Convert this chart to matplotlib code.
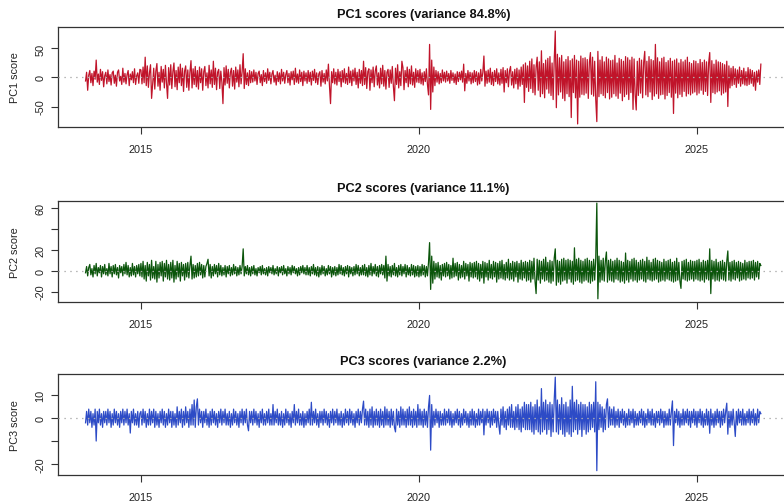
import matplotlib
matplotlib.use("Agg")
import matplotlib.pyplot as plt
import pandas as pd

plt.rcParams['font.family'] = ['Liberation Sans', 'DejaVu Sans']
plt.rcParams['axes.unicode_minus'] = False

# Weekly PCA scores, Jan 2014 - Feb 2026
pc1 = [
    # 2014
    -6, 9, -22, 4, 12, -9, 7, -14, 11, -3, 30, -8, 6, -12, 14, -5, 10, -16, 3, 9, -11, 13, -7, 5, -13, 8,
    11, -10, 4, -15, 9, 13, -6, 2, -12, 16, -8, 7, -11, 5, 12, -14, 6, -4, 10, -9, 15, -12, 3, 8, -10, 14,
    # 2015
    13, -11, 18, -9, 35, -14, 20, -17, 8, 22, -36, -12, 16, -20, 11, 24, -15, 9, -22, 19, -8, 14, -18, 21, -10, -36,
    17, -13, 22, -19, 10, 25, -16, 12, -21, 18, -9, 23, -14, 16, -24, 11, 20, -17, 13, -22, 9, 29, -18, 15, -12, 19,
    # 2016
    -16, 12, -20, 18, -9, 15, -22, 10, 19, -14, 8, -18, 21, -11, 13, -17, 28, -12, 16, -21, 9, 14, -19, 11, -8, -45,
    17, -13, 20, -10, 14, -18, 9, 16, -15, 12, -20, 18, -8, 13, -16, 22, -11, 10, 41, -19, 15, -12, 8, -14, 12, -9,
    # 2017
    10, -8, 13, -6, 9, -12, 7, 11, -9, 5, -14, 12, -7, 8, -10, 15, -5, 9, -11, 6, 12, -8, 4, -13, 10, -7,
    8, -11, 14, -6, 9, -10, 5, 12, -9, 7, -13, 10, -4, 11, -12, 16, -8, 6, -10, 13, -7, 9, -14, 11, -6, 8,
    # 2018
    -10, 12, -7, 9, -13, 11, -5, 14, -9, 8, -12, 6, 10, -15, 12, -8, 7, -11, 13, -6, 23, -14, -45, 10, -9, 15,
    -11, 9, -13, 14, -7, 10, -16, 12, -8, 15, -10, 7, -12, 18, -9, 11, -14, 13, -6, 16, -12, 9, -18, 14, -10, 12,
    # 2019
    -14, 28, -12, 17, -19, 10, 15, -22, 13, -9, 18, -16, 11, 20, -13, 8, -18, 16, -11, 21, -15, 12, -20, 9, 14, -17,
    13, -10, 19, -15, -40, 16, -12, 22, -18, 10, -14, 28, 17, -21, 12, -9, 18, -16, 14, -11, 20, -13, 9, -17, 15, -8,
    # 2020
    12, -9, 14, -11, 8, -13, 10, -7, 15, -12, -30, 57, -55, 30, -25, 18, -14, 12, -8, 10, -11, 7, -9, 13, -6, 9,
    -8, 11, -6, 7, -10, 12, -5, 8, -9, 6, -12, 10, -7, 9, -4, 11, -8, 23, -23, 7, -10, 12, -6, 9, -11, 8,
    # 2021
    -9, 12, -7, 10, -13, 8, -11, 14, -6, 9, 37, -15, 11, -10, 13, -8, 16, -12, 9, -14, 12, -7, 15, -11, 8, -13,
    14, -10, 17, -25, 12, -9, 15, -16, 11, 19, -13, 10, -18, 14, -11, 16, -20, 13, -15, 18, -12, 22, -43, 25, -17, 20,
    # 2022
    -24, 28, -19, 32, -26, 22, -30, 18, 35, -22, 27, -33, 46, -28, 24, -35, 30, -20, 33, -27, 36, -31, 25, -38, 29, 80,
    -52, 40, -30, 34, -25, 38, -36, 27, -40, 31, -28, 36, -33, 29, -69, 32, -26, 38, -35, 30, -80, 28, -34, 37, -29, 33,
    # 2023
    -30, 34, -27, 31, -36, 26, 43, -29, 35, -32, 28, -38, -76, 45, -33, 30, -28, 36, -31, 27, -35, 35, -26, 32, -37, 29,
    -34, 30, -28, 38, -32, 25, -36, 33, -27, 31, -40, 28, -33, 36, -29, 34, -38, 30, -26, 35, -55, 32, -30, -56, 28, -31,
    # 2024
    33, -27, 30, -35, 26, 45, -30, 28, -33, 36, -25, 31, -38, 29, -32, 57, -28, 34, -36, 27, -30, 33, -29, 35, -37, 26,
    -31, 29, -26, 33, -34, 28, -62, 30, -27, 32, -35, 25, -29, 31, -33, 27, -24, 30, -32, 35, -28, 26, -30, 24, -27, 29,
    # 2025
    -25, 28, -30, 24, -27, 31, -22, 26, -29, 30, -24, 27, -31, 25, 43, -43, 29, -26, 23, -28, 30, -25, 27, -23, 26, -30,
    24, -27, 22, -25, 28, -50, 20, -18, 16, -14, 19, -12, 15, -17, 13, -10, 18, -15, 12, -11, 16, -13, 10, -14, 17, -12,
    # 2026
    14, -10, 12, -15, 9, -22, 11, -8, 13, -12, 23,
]

pc2 = [
    # 2014
    -2, 4, -5, 3, 6, -4, 2, -6, 5, -3, 7, -5, 3, -2, 5, -6, 4, -3, 6, -4, 2, -5, 7, -3, 4, -6,
    5, -3, 6, -4, 3, -7, 5, -2, 4, -5, 6, -3, 8, -4, 5, -6, 3, -5, 7, -4, 4, -6, 5, -3, 6, -5,
    # 2015
    7, -6, 9, -8, 5, -10, 8, -5, 6, -9, 10, -7, 4, -8, 9, -11, 6, -7, 8, -5, 9, -10, 7, -6, 10, -8,
    6, -9, 8, -7, 10, -11, 5, -8, 9, -6, 7, -10, 8, -5, 6, -9, 7, -6, 8, -7, 5, 14, -8, 6, -7, 5,
    # 2016
    -6, 7, -5, 8, -4, 6, -7, 5, -6, 4, 7, 11, -5, 6, -7, 4, -5, 6, -3, 5, -6, 7, -4, 5, -5, 3,
    -4, 5, -6, 4, -3, 5, -5, 3, -4, 6, -3, 4, -5, 3, -4, 5, -3, 4, 21, -5, 4, -3, 5, -4, 3, -5,
    # 2017
    4, -3, 5, -4, 2, -5, 3, -2, 4, -4, 5, -3, 2, -4, 3, -5, 4, -2, 3, -3, 5, -4, 2, -3, 4, -5,
    3, -2, 4, -4, 5, -3, 2, -5, 4, -3, 3, -4, 5, -2, 4, -3, 2, -5, 3, -4, 4, -2, 5, -3, 3, -4,
    # 2018
    5, -4, 3, -5, 4, -3, 6, -4, 3, -5, 4, -6, 3, -4, 5, -3, 4, -5, 2, -4, 5, -3, 4, -6, 3, -4,
    4, -5, 3, -4, 6, -3, 5, -4, 3, -5, 4, -3, 5, -6, 4, -3, 3, -5, 4, -4, 6, -3, 5, -5, 3, -4,
    # 2019
    5, -4, 6, -5, 3, -6, 5, -4, 7, -5, 4, -3, 6, -5, 4, -6, 5, -3, 6, -4, 5, -7, 14, -10, 6, -5,
    4, -6, 5, -4, 7, -5, 3, -6, 5, -4, 6, -5, 4, -3, 6, -6, 5, -4, 3, -5, 6, -4, 5, -6, 4, -5,
    # 2020
    5, -6, 4, -5, 6, -4, 5, -6, 4, -5, 8, 27, -18, 14, -12, 9, -8, 7, -6, 8, -7, 5, -9, 6, -5, 7,
    -6, 8, -5, 6, -8, 5, -7, 12, -6, 7, -5, 8, -9, 6, -7, 5, -6, 9, -8, 7, -5, 6, -10, 8, -6, 7,
    # 2021
    -7, 8, -6, 9, -8, 7, -10, 6, -7, 9, -12, 8, -6, 7, -9, 10, -7, 6, -8, 9, -6, 8, -11, 7, -8, 9,
    -7, 10, -8, 6, -9, 8, -7, 11, -9, 7, -8, 9, -10, 8, -6, 9, -11, 7, -8, 10, -9, 8, -7, 9, -10, 8,
    # 2022
    -9, 10, -11, 9, -8, 12, -10, -22, 11, -9, 10, -12, 9, -8, 11, -10, 13, -9, 8, -11, 10, -12, 9, -10, 12, 21,
    -14, 10, -11, 9, -13, 11, -10, 12, -9, 10, -12, 11, -8, 10, -11, 9, -13, 22, -10, 11, -9, 12, -11, 10, -12, 9,
    # 2023
    -10, 11, -9, 12, -11, 10, -12, 9, -10, 11, -9, 12, 65, -27, 14, -11, 10, -9, 12, -10, 9, 18, -11, 10, -9, 11,
    -10, 9, -11, 10, -8, 12, -9, 10, -11, 9, -10, 8, -12, 17, -9, 10, -11, 9, -8, 11, -10, 12, -9, 10, -11, 8,
    # 2024
    -9, 10, -8, 11, -10, 9, -11, 13, -8, 10, -9, 8, -10, 11, -9, 12, -8, 10, -11, 9, -10, 8, -9, 11, -10, 9,
    -8, 10, -9, 11, -10, 8, -11, 9, -10, 12, -9, 8, -10, -17, 9, -8, 10, -9, 11, -10, 8, -9, 10, -8, 9, -10,
    # 2025
    9, -8, 10, -9, 11, -10, 8, -9, 10, -11, 9, -8, 10, -9, 21, -22, 10, -8, 9, -10, 11, -9, 8, -10, 9, -8,
    10, -9, 8, -10, 9, 19, -9, 8, -10, 9, -8, 10, -9, 8, -7, 9, -10, 8, -9, 7, -8, 10, -9, 8, -7, 9,
    # 2026
    -8, 9, -7, 10, -9, 8, -6, 9, -8, 7, 5,
]

pc3 = [
    # 2014
    -2, 3, -3, 4, -2, 3, -4, 2, -3, 4, -10, 3, -2, 4, -3, 2, -4, 3, -2, 3, -3, 4, -2, 3, -4, 2,
    -3, 4, -2, 3, -3, 2, -4, 3, -2, 4, -3, 3, -2, 4, -3, 2, -6.5, 3, -2, 4, -3, 2, -3, 3, -4, 2,
    # 2015
    3, -3, 4, -2, 3, -4, 2, -3, 4, -3, 3, -2, 4, -4, 3, -3, 2, -4, 3, -2, 4, -3, 3, -4, 2, -3,
    4, -2, 3, -4, 3, -3, 2, -4, 5, -3, 3, -2, 4, -4, 3, -3, 5, -2, 3, -4, 4, -3, 6, -3, 8, -4,
    # 2016
    5, 8.5, -3, 4, -2, 3, -4, 3, -2, 4, -3, 2, -4, 3, -3, 4, -2, 3, -3, 2, -4, 3, -2, 4, -3, 3,
    -2, 4, -3, 2, -3, 3, -4, 2, -3, 4, -2, 3, -3, 2, -4, 3, -2, 4, -3, 3, -2, 4, -3, -5.5, 3, -2,
    # 2017
    3, -3, 4, -2, 3, -3, 2, -4, 3, -2, 4, -3, 2, -3, 3, -2, 4, -3, 2, -3, 6, -3, 3, -2, 4, -3,
    2, -3, 3, -4, 2, -3, 4, -2, 3, -3, 2, -4, 3, -2, 6, -3, 3, -2, 4, -3, 2, -3, 3, -4, 2, -3,
    # 2018
    3, -2, 4, -3, 7, -3, 3, -2, 4, -3, 2, -4, 3, -2, 3, -3, 4, -2, 3, -3, 2, -4, 3, -2, 4, -3,
    3, -2, 4, -3, 2, -3, 3, -4, 2, -3, 4, -2, 3, -3, 4, -2, 3, -3, 2, -4, 3, -2, 4, -3, 3, -2,
    # 2019
    4, 7.5, -3, 4, -3, 3, -4, 4, -3, 5, -4, 3, -3, 4, -3, 3, -4, 4, -3, 3, -4, 5, -3, 4, -3, 3,
    -4, 4, -3, 3, -4, -6, 4, -3, 3, -4, 5, -3, 4, -3, 3, -4, 4, -3, 5, -3, 3, -4, 4, -3, 3, -4,
    # 2020
    6, -3, 4, -3, 3, -4, 4, -3, 3, -4, 5, 10, -14, 6, -4, 3, -3, 4, -2, 3, -4, 3, -3, 2, -3, 4,
    -3, 3, -2, 4, -3, 3, -4, 2, -3, 3, -2, 4, -3, 3, -4, 2, -3, 4, -2, 3, -3, 2, -4, 3, -3, 4,
    # 2021
    -3, 3, -4, 2, -3, 4, -3, 3, -2, 4, -7.3, 3, -3, 4, -2, 3, -4, 3, -3, 4, -2, 3, -4, 3, -3, -7,
    4, -3, 5, -4, 3, -5, 4, -3, 5, -4, 6, -4, 3, -5, 5, -4, 6, -5, 4, -6, 5, -4, 7, -5, 6, -5,
    # 2022
    6, -5, 7, -6, 5, -7, 6, -5, 8, -6, 5, -7, 13, -6, 7, -5, 8, -7, 6, -5, 7, -8, 6, -6, 8, 18,
    -6, 8, -7, 6, -5, 9, -7, 6, -8, 7, -6, 5, -7, 8, -8, 14, -6, 7, -5, 8, -7, 6, -5, 7, -8, 6,
    # 2023
    -5, 6, -7, 5, -6, 7, -5, 6, -4, 7, -6, 16, -23, 7, -5, 6, -4, 5, -6, 4, -5, 6, 8.5, -4, 5, -3,
    4, -3, 5, -4, 3, -3, 4, -4, 3, -2, 4, -3, 3, -4, 2, -3, 4, -3, 3, -2, 4, -4, 3, -3, 2, -3,
    # 2024
    3, -2, 4, -3, 3, -4, 2, -3, 4, -2, 3, -3, 4, -3, 2, -4, 3, -2, 3, -3, 4, -2, 3, -4, 3, -3,
    2, -3, 4, -3, 3, 7.6, -12, 3, -2, 4, -3, 3, -4, 2, -3, 4, -3, 3, -2, 4, -3, 3, -4, 3, -2, 4,
    # 2025
    -3, 3, -4, 3, -2, 4, -3, 3, -4, 2, -3, 4, -3, 3, -6.6, 4, -3, 2, -4, 3, -3, 4, -2, 3, -4, 3,
    -3, 4, -2, 3, 6.6, -7, 3, -4, 3, -3, 4, -2, -8, 3, -3, 4, -2, 3, -3, 4, -3, 2, -3, 3, -2, 4,
    # 2026
    -3, 3, -2, 4, -3, 2, -3, 4, -2, 3, 2,
]

series = [pc1, pc2, pc3]
titles = ["PC1 scores (variance 84.8%)", "PC2 scores (variance 11.1%)", "PC3 scores (variance 2.2%)"]
ylabels = ["PC1 score", "PC2 score", "PC3 score"]
colors = ["#C0142A", "#0B550B", "#2D4BC6"]
yticks = [[-50, 0, 50], [-20, 0, 20, 40, 60], [-20, -10, 0, 10]]
yticklabels = [["-50", "0", "50"], ["-20", "0", "20", "", "60"], ["-20", "", "0", "10"]]
ylims = [(-85.3, 87.0), (-29.8, 67.3), (-24.9, 19.4)]
xticks = ["2015", "2020", "2025"]

fig = plt.figure(figsize=(7.84, 5.02), dpi=100)
W, H = 784, 502
boxes = [(28, 128), (201.7, 302.7), (375, 476)]
xl, xr = 58, 789

for i, (top, bot) in enumerate(boxes):
    s = series[i]
    dates = pd.date_range("2014-01-01", periods=len(s), freq="7D")
    ax = fig.add_axes([xl / W, 1 - bot / H, (xr - xl) / W, (bot - top) / H])
    ax.plot(dates, s, color=colors[i], lw=0.9)
    ax.axhline(0, color="#b0b0b0", lw=0.9, ls=(0, (1.2, 3.5)), zorder=3)
    ax.set_xlim(pd.Timestamp("2013-07-04"), pd.Timestamp("2026-08-29"))
    ax.set_ylim(*ylims[i])
    ax.set_xticks([pd.Timestamp(y + "-01-01") for y in xticks])
    ax.set_xticklabels(xticks)
    ax.set_yticks(yticks[i])
    ax.set_yticklabels(yticklabels[i], rotation=90, va="center")
    ax.tick_params(axis="both", length=5, width=0.8, color="#333333", labelsize=7.8,
                   labelcolor="#222222")
    ax.tick_params(axis="x", pad=7.5)
    ax.tick_params(axis="y", pad=4)
    for sp in ax.spines.values():
        sp.set_color("#333333")
        sp.set_linewidth(0.9)
    ax.set_title(titles[i], fontsize=9.2, fontweight="bold", pad=7, color="#111111")
    ax.set_ylabel(ylabels[i], fontsize=7.8, labelpad=11, color="#222222")

fig.savefig("out.png", dpi=100)
